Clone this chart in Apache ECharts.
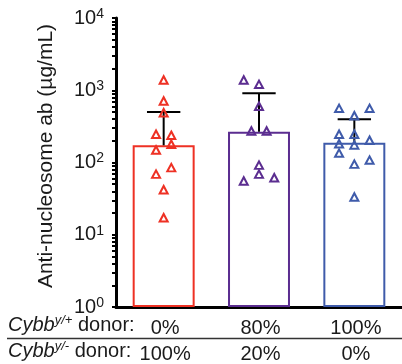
<!DOCTYPE html>
<html><head><meta charset="utf-8">
<script src="https://cdn.jsdelivr.net/npm/echarts@6/dist/echarts.min.js"></script>
<style>html,body{margin:0;padding:0;background:#fff}#c{width:402px;height:364px}</style>
</head><body><div id="c"></div>
<script>
// ---- data ----
const categories = ['A', 'B', 'C'];
const yPlusDonor = ['0%', '80%', '100%'];
const yMinusDonor = ['100%', '20%', '0%'];
const barValues = [173, 267, 188];
const errorUpper = [500, 908, 396];
const groupColors = ['#EE3124', '#5B2D90', '#3F5BAA'];
const pointsA = [1387, 710, 489, 246, 238, 179, 149, 85, 69, 42, 17.2];
const slotsA  = [0, 0, 0, -1, 1, 1, -1, 1, -1, 0, 0];
const pointsB = [1387, 1208, 600, 273, 273, 92, 69, 55.5, 61.6];
const slotsB  = [-2, 0, 0, -1, 1, 0, 0, -2, 2];
const pointsC = [562, 562, 444, 246, 246, 203, 182, 175, 135, 108, 95, 33.3];
const slotsC  = [-2, 2, 0, -2, 0, 2, -2, 0, -2, 2, 0, 0];
const yExponents = [0, 1, 2, 3, 4];
const minorMultipliers = [1, 2, 3, 4, 5, 6, 7, 8, 9];
const yTitle = 'Anti-nucleosome ab (\u00b5g/mL)';

// ---- build ----
const FONT = '"Liberation Sans", Arial, sans-serif';
const jitterStep = 0.08;
const groups = [pointsA, pointsB, pointsC];
const slots = [slotsA, slotsB, slotsC];

const tickValues = [];
yExponents.slice(0, -1).forEach(e => minorMultipliers.forEach(m => tickValues.push(m * Math.pow(10, e))));
tickValues.push(Math.pow(10, yExponents[yExponents.length - 1]));

const scatterSeries = groups.map((pts, g) => ({
  type: 'scatter', xAxisIndex: 1, yAxisIndex: 0, z: 5,
  symbol: 'triangle', symbolSize: [8, 7.5],
  itemStyle: { color: 'rgba(255,255,255,0)', borderColor: groupColors[g], borderWidth: 2, opacity: 1 },
  data: pts.map((v, i) => [g + slots[g][i] * jitterStep, v])
}));

const richRow = {
  i: { fontSize: 20, fontStyle: 'italic', fontFamily: FONT, fill: '#1a1a1a', lineHeight: 22 },
  s: { fontSize: 13, fontStyle: 'italic', fontFamily: FONT, fill: '#1a1a1a', lineHeight: 13, verticalAlign: 'top' },
  n: { fontSize: 20, fontFamily: FONT, fill: '#1a1a1a', lineHeight: 22 }
};

const chart = echarts.init(document.getElementById('c'), null, { renderer: 'canvas' });
chart.setOption({
  animation: false,
  backgroundColor: '#fff',
  grid: { left: 116, top: 18, width: 288, height: 289, containLabel: false },
  xAxis: [
    {
      type: 'category', data: categories, boundaryGap: true,
      axisLine: { lineStyle: { color: '#000', width: 3 } },
      axisTick: { show: false },
      axisLabel: {
        margin: 8, interval: 0,
        formatter: (v, i) => '{a|' + yPlusDonor[i] + '}\n{b|' + yMinusDonor[i] + '}',
        rich: {
          a: { fontSize: 20, fontFamily: FONT, color: '#1a1a1a', lineHeight: 26, padding: [0, 0, 0, 3] },
          b: { fontSize: 20, fontFamily: FONT, color: '#1a1a1a', lineHeight: 26, padding: [0, 0, 0, 3] }
        }
      }
    },
    { type: 'value', min: -0.5, max: 2.5, show: false }
  ],
  yAxis: {
    type: 'log', logBase: 10, min: 1, max: 10000,
    axisLine: { show: true, onZero: false, lineStyle: { color: '#000', width: 3 } },
    axisTick: { show: true, length: 4, customValues: tickValues, lineStyle: { color: '#000', width: 2 } },
    splitLine: { show: false },
    axisLabel: {
      margin: 12,
      formatter: v => '{b|10}{s|' + Math.round(Math.log10(v)) + '}',
      rich: {
        b: { fontSize: 20, fontFamily: FONT, color: '#1a1a1a', lineHeight: 22 },
        s: { fontSize: 14, fontFamily: FONT, color: '#1a1a1a', lineHeight: 14, verticalAlign: 'top' }
      }
    }
  },
  graphic: [
    { type: 'text', x: 46, y: 156, rotation: Math.PI / 2,
      style: { text: yTitle, fontSize: 21, fontFamily: FONT, fill: '#1a1a1a', align: 'center', verticalAlign: 'middle' } },
    { type: 'text', left: 8, top: 314, style: { rich: richRow, text: '{i|Cybb}{s|y/+}{n| donor:}' } },
    { type: 'text', left: 8, top: 340, style: { rich: richRow, text: '{i|Cybb}{s|y/-}{n| donor:}' } },
    { type: 'line', shape: { x1: 7, y1: 338.5, x2: 402, y2: 338.5 }, style: { stroke: '#333', lineWidth: 1.5 } }
  ],
  series: [
    {
      type: 'bar', xAxisIndex: 0, yAxisIndex: 0, barWidth: '65%', z: 2,
      data: barValues.map((v, i) => ({ value: v, itemStyle: { color: '#fff', borderColor: groupColors[i], borderWidth: 2 } }))
    },
    ...scatterSeries,
    {
      type: 'custom', xAxisIndex: 1, yAxisIndex: 0, z: 4,
      data: barValues.map((v, i) => [i, v, errorUpper[i]]),
      renderItem: (params, api) => {
        const x = api.value(0);
        const lo = api.coord([x, api.value(1)]);
        const hi = api.coord([x, api.value(2)]);
        const half = api.size([0.175, 0])[0];
        const st = { stroke: '#000', lineWidth: 2 };
        return { type: 'group', children: [
          { type: 'line', shape: { x1: lo[0], y1: lo[1], x2: hi[0], y2: hi[1] }, style: st },
          { type: 'line', shape: { x1: hi[0] - half, y1: hi[1], x2: hi[0] + half, y2: hi[1] }, style: st }
        ] };
      }
    }
  ]
});
</script>
</body></html>
